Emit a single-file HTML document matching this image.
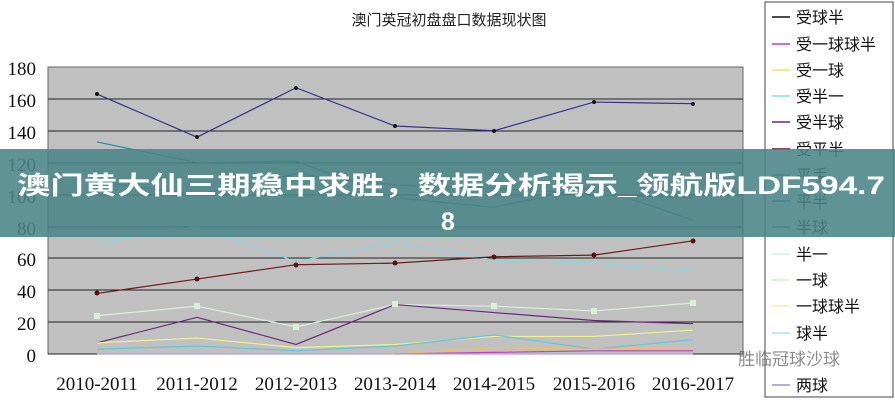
<!DOCTYPE html>
<html><head><meta charset="utf-8"><style>
html,body{margin:0;padding:0;background:#fff;}
svg{display:block;font-family:"Liberation Serif","Noto Serif CJK SC",serif;}
</style></head><body>
<svg width="895" height="400" viewBox="0 0 895 400" xmlns="http://www.w3.org/2000/svg">
<rect width="895" height="400" fill="#fff"/>
<text x="449" y="25" font-size="15" fill="#222" text-anchor="middle" font-family="Liberation Sans, Noto Sans CJK SC, sans-serif">澳门英冠初盘盘口数据现状图</text>
<rect x="48" y="67" width="695" height="287" fill="#c0c0c0" stroke="#666" stroke-width="1"/>
<g stroke="#222" stroke-width="1">
<line x1="48" y1="99" x2="743" y2="99"/>
<line x1="48" y1="131" x2="743" y2="131"/>
<line x1="48" y1="163" x2="743" y2="163"/>
<line x1="48" y1="195" x2="743" y2="195"/>
<line x1="48" y1="227" x2="743" y2="227"/>
<line x1="48" y1="258" x2="743" y2="258"/>
<line x1="48" y1="290" x2="743" y2="290"/>
<line x1="48" y1="322" x2="743" y2="322"/>
<line x1="48" y1="354" x2="743" y2="354"/>
</g>
<g font-size="19" fill="#111" text-anchor="end">
<text x="36" y="75">180</text><text x="36" y="107">160</text><text x="36" y="139">140</text>
<text x="36" y="171">120</text><text x="36" y="203">100</text><text x="36" y="235">80</text>
<text x="36" y="266">60</text><text x="36" y="298">40</text><text x="36" y="330">20</text><text x="36" y="362">0</text>
</g>
<g font-size="19" fill="#111" text-anchor="middle">
<text x="97" y="390">2010-2011</text><text x="197" y="390">2011-2012</text><text x="296" y="390">2012-2013</text>
<text x="395" y="390">2013-2014</text><text x="494" y="390">2014-2015</text><text x="594" y="390">2015-2016</text><text x="693" y="390">2016-2017</text>
</g>
<g transform="translate(0,354) scale(1,-1.5944)" fill="none" stroke-width="1.2">
<polyline vector-effect="non-scaling-stroke" stroke="#33338a" points="97,163 197,136 296,167 395,143 494,140 594,158 693,157"/>
<polyline vector-effect="non-scaling-stroke" stroke="#2a8a9a" points="97,133 197,120 296,121 395,98 494,92 594,105 693,84"/>
<polyline vector-effect="non-scaling-stroke" stroke="#3a7a80" points="97,108 197,100 296,113 395,106 494,104 594,100 693,98"/>
<polyline vector-effect="non-scaling-stroke" stroke="#8ad4e0" points="97,69 197,80 296,58 395,70 494,59 594,57 693,52"/>
<polyline vector-effect="non-scaling-stroke" stroke="#6a1a1a" points="97,38 197,47 296,56 395,57 494,61 594,62 693,71"/>
<polyline vector-effect="non-scaling-stroke" stroke="#d8f0d8" points="97,24 197,30 296,17 395,31 494,30 594,27 693,32"/>
<polyline vector-effect="non-scaling-stroke" stroke="#6a2a7a" points="97,7 197,23 296,6 395,31 494,26 594,21 693,19"/>
<polyline vector-effect="non-scaling-stroke" stroke="#f0f090" points="97,7 197,10 296,4 395,6 494,11 594,11 693,15"/>
<polyline vector-effect="non-scaling-stroke" stroke="#60c8d8" points="97,3 197,5 296,2 395,5 494,12 594,3 693,9"/>
<polyline vector-effect="non-scaling-stroke" stroke="#f0c060" points="395,0 494,4 594,3 693,4"/>
<polyline vector-effect="non-scaling-stroke" stroke="#c040c0" points="395,0 494,1 594,2 693,2"/>
<polyline vector-effect="non-scaling-stroke" stroke="#b0a0e0" points="97,0 197,0 296,0 395,0 494,0 594,0 693,0"/>
</g>
<g fill="#111">
<circle cx="97" cy="94" r="2"/><circle cx="197" cy="137" r="2"/><circle cx="296" cy="88" r="2"/><circle cx="395" cy="126" r="2"/><circle cx="494" cy="131" r="2"/><circle cx="594" cy="102" r="2"/><circle cx="693" cy="104" r="2"/>
</g>
<g fill="#5a1010">
<circle cx="97" cy="293" r="2.5"/><circle cx="197" cy="279" r="2.5"/><circle cx="296" cy="265" r="2.5"/><circle cx="395" cy="263" r="2.5"/><circle cx="494" cy="257" r="2.5"/><circle cx="594" cy="255" r="2.5"/><circle cx="693" cy="241" r="2.5"/>
</g>
<g fill="#d8f0d8">
<rect x="94" y="313" width="6" height="6"/><rect x="194" y="303" width="6" height="6"/><rect x="293" y="324" width="6" height="6"/><rect x="392" y="301" width="6" height="6"/><rect x="491" y="303" width="6" height="6"/><rect x="591" y="308" width="6" height="6"/><rect x="690" y="300" width="6" height="6"/>
</g>
<rect x="765" y="2" width="128" height="395" fill="#fff" stroke="#444" stroke-width="1"/>
<g font-size="16" fill="#111" font-family="Liberation Sans, Noto Sans CJK SC, sans-serif">
<text x="796" y="23">受球半</text><text x="796" y="50">受一球球半</text><text x="796" y="76">受一球</text>
<text x="796" y="102">受半一</text><text x="796" y="128">受半球</text><text x="796" y="155">受平半</text>
<text x="796" y="181">平手</text><text x="796" y="207">平半</text><text x="796" y="233">半球</text>
<text x="796" y="260">半一</text><text x="796" y="286">一球</text><text x="796" y="312">一球球半</text>
<text x="796" y="339">球半</text><text x="796" y="391">两球</text>
</g>
<g stroke-width="1.5">
<line x1="772" y1="17" x2="790" y2="17" stroke="#111"/>
<line x1="772" y1="44" x2="790" y2="44" stroke="#c040c0"/>
<line x1="772" y1="70" x2="790" y2="70" stroke="#e8e860"/>
<line x1="772" y1="96" x2="790" y2="96" stroke="#80e0e0"/>
<line x1="772" y1="122" x2="790" y2="122" stroke="#6a2a7a"/>
<line x1="772" y1="149" x2="790" y2="149" stroke="#5a1010"/>
<line x1="772" y1="175" x2="790" y2="175" stroke="#2a8a9a"/>
<line x1="772" y1="201" x2="790" y2="201" stroke="#2a5a8a"/>
<line x1="772" y1="227" x2="790" y2="227" stroke="#2a8a9a"/>
<line x1="772" y1="254" x2="790" y2="254" stroke="#d0f0f0"/>
<line x1="772" y1="280" x2="790" y2="280" stroke="#d0f0d0"/>
<line x1="772" y1="306" x2="790" y2="306" stroke="#f0f0a0"/>
<line x1="772" y1="333" x2="790" y2="333" stroke="#b0e0e8"/>
<line x1="772" y1="385" x2="790" y2="385" stroke="#a090c0"/>
</g>
<text x="738" y="365" font-size="17" fill="#666" font-family="Liberation Sans, Noto Sans CJK SC, sans-serif" opacity="0.75">胜临冠球沙球</text>
<rect x="0" y="149" width="895" height="88" fill="#4a8488" opacity="0.88"/>
<text x="17" y="194" font-size="25" font-weight="bold" fill="#fff" font-family="Liberation Sans, Noto Sans CJK SC, sans-serif" textLength="868" lengthAdjust="spacingAndGlyphs">澳门黄大仙三期稳中求胜，数据分析揭示_领航版LDF594.7</text>
<text x="448" y="230" font-size="25" font-weight="bold" fill="#fff" text-anchor="middle" font-family="Liberation Sans, sans-serif">8</text>
</svg>
</body></html>
